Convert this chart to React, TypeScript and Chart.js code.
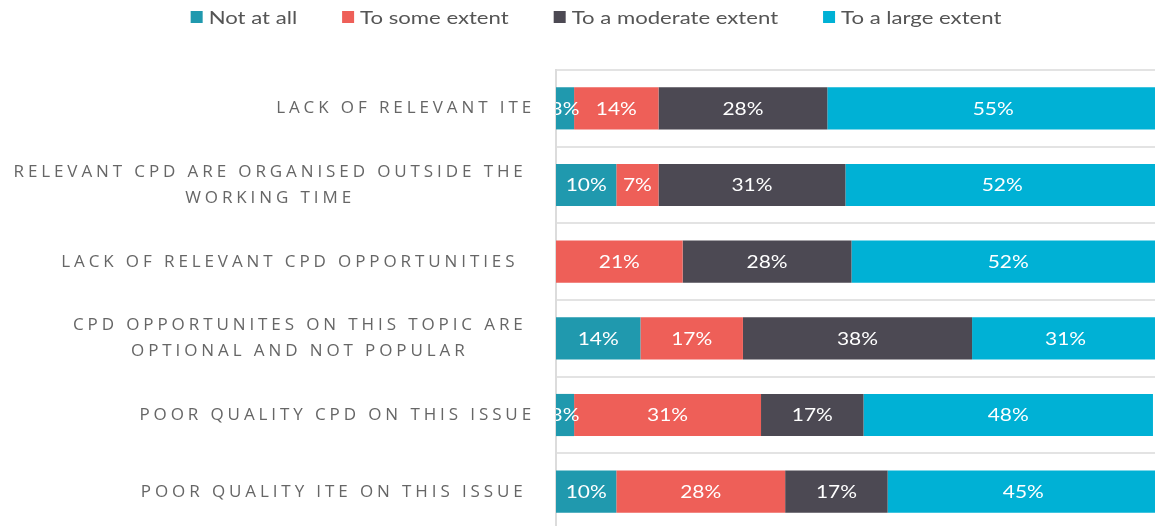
import { useEffect, useRef } from "react";
import { Chart, registerables } from "chart.js";

Chart.register(...registerables);

const categories: string[][] = [
  ["LACK OF RELEVANT ITE"],
  ["RELEVANT CPD ARE ORGANISED OUTSIDE THE ", "WORKING TIME"],
  ["LACK OF RELEVANT CPD OPPORTUNITIES  "],
  ["CPD OPPORTUNITES ON THIS TOPIC ARE ", "OPTIONAL AND NOT POPULAR"],
  ["POOR QUALITY CPD ON THIS ISSUE"],
  ["POOR QUALITY ITE ON THIS ISSUE "],
];

const seriesNames = ["Not at all", "To some extent", "To a moderate extent", "To a large extent"];
const notAtAll = [3, 10, 0, 14, 3, 10];
const toSomeExtent = [14, 7, 21, 17, 31, 28];
const toModerateExtent = [28, 31, 28, 38, 17, 17];
const toLargeExtent = [55, 52, 52, 31, 48, 45];
const seriesColors = ["#2099AE", "#EE5F58", "#4C4953", "#00B1D5"];

const LABEL_FONT = "17px 'Open Sans'";
const LABEL_SPACING = "3.9px";
const LABEL_COLOR = "#666666";
const LEGEND_FONT = "18px Lato";
const LEGEND_COLOR = "#555555";
const VALUE_FONT = "17px Lato";
const TEXT_STRETCH = 1.23;

function stretchedText(ctx: CanvasRenderingContext2D, text: string, x: number, y: number, sx: number) {
  ctx.save();
  ctx.translate(x, y);
  ctx.scale(sx, 1);
  ctx.fillText(text, 0, 0);
  ctx.restore();
}

const yLabelsPlugin = {
  id: "yLabels",
  afterDraw(chart: any) {
    const ctx = chart.ctx as CanvasRenderingContext2D;
    const yScale = chart.scales.y;
    ctx.save();
    ctx.font = LABEL_FONT;
    (ctx as any).letterSpacing = LABEL_SPACING;
    ctx.fillStyle = LABEL_COLOR;
    ctx.textBaseline = "middle";
    ctx.textAlign = "left";
    const rightEdge = chart.chartArea.left - 21;
    const lh = 25.5;
    categories.forEach((lines, i) => {
      const yc = yScale.getPixelForValue(i);
      const full = lines.map((l) => ctx.measureText(l).width);
      const trim = lines.map((l) => ctx.measureText(l.trimEnd()).width);
      let k = 0;
      full.forEach((w, j) => {
        if (w > full[k]) k = j;
      });
      const visibleCenter = rightEdge - full[k] + trim[k] / 2;
      lines.forEach((line, j) => {
        const y = yc + (j - (lines.length - 1) / 2) * lh;
        ctx.fillText(line.trimEnd(), visibleCenter - trim[j] / 2, y);
      });
    });
    ctx.restore();
  },
};

const legendPlugin = {
  id: "customLegend",
  afterDraw(chart: any) {
    const ctx = chart.ctx as CanvasRenderingContext2D;
    ctx.save();
    ctx.font = LEGEND_FONT;
    ctx.textBaseline = "middle";
    ctx.textAlign = "left";
    const box = 12;
    const gapText = 6;
    const gapItem = 45;
    const items = chart.data.datasets.map((d: any) => ({
      label: d.label as string,
      color: d.backgroundColor as string,
      w: ctx.measureText(d.label).width * TEXT_STRETCH,
    }));
    const total =
      items.reduce((s: number, it: any) => s + box + gapText + it.w, 0) + gapItem * (items.length - 1);
    let x = 596 - total / 2;
    const y = 17;
    items.forEach((it: any) => {
      ctx.fillStyle = it.color;
      ctx.fillRect(x, y - box / 2, box, box);
      x += box + gapText;
      ctx.fillStyle = LEGEND_COLOR;
      stretchedText(ctx, it.label, x, y + 1, TEXT_STRETCH);
      x += it.w + gapItem;
    });
    ctx.restore();
  },
};

const valueLabelsPlugin = {
  id: "valueLabels",
  afterDatasetsDraw(chart: any) {
    const ctx = chart.ctx as CanvasRenderingContext2D;
    const area = chart.chartArea;
    ctx.save();
    ctx.beginPath();
    ctx.rect(area.left, area.top, area.right - area.left, area.bottom - area.top);
    ctx.clip();
    ctx.font = VALUE_FONT;
    ctx.fillStyle = "#ffffff";
    ctx.textAlign = "center";
    ctx.textBaseline = "middle";
    chart.data.datasets.forEach((ds: any, di: number) => {
      const meta = chart.getDatasetMeta(di);
      meta.data.forEach((el: any, i: number) => {
        const v = ds.data[i];
        if (!v) return;
        const cx = (el.x + el.base) / 2;
        stretchedText(ctx, `${v}%`, cx, el.y + 1, TEXT_STRETCH);
      });
    });
    ctx.restore();
  },
};

export default function App() {
  const canvasRef = useRef<HTMLCanvasElement | null>(null);

  useEffect(() => {
    document.body.style.overflow = "hidden";
    const canvas = canvasRef.current;
    if (!canvas) return;
    const series = [notAtAll, toSomeExtent, toModerateExtent, toLargeExtent];
    const chart = new Chart(canvas, {
      type: "bar",
      data: {
        labels: categories.map((c) => c.join(" ").trim()),
        datasets: series.map((data, i) => ({
          label: seriesNames[i],
          data,
          backgroundColor: seriesColors[i],
          borderWidth: 0,
          barPercentage: 0.55,
          categoryPercentage: 1,
        })),
      },
      options: {
        indexAxis: "y",
        animation: false,
        responsive: true,
        maintainAspectRatio: false,
        layout: { padding: { top: 70, right: 1, bottom: 1, left: 0 } },
        plugins: {
          legend: { display: false },
          tooltip: { enabled: false },
        },
        scales: {
          x: {
            stacked: true,
            min: 0,
            max: 100,
            display: false,
          },
          y: {
            stacked: true,
            ticks: { display: false },
            grid: { color: "#e3e3e3", drawTicks: false, offset: true, lineWidth: 2 },
            border: { color: "#dcdcdc", width: 2 },
            afterFit: (scale: any) => {
              scale.width = 556;
            },
          },
        },
      },
      plugins: [valueLabelsPlugin, yLabelsPlugin, legendPlugin],
    });
    return () => chart.destroy();
  }, []);

  return (
    <div style={{ position: "fixed", left: 0, top: 0, width: 1160, height: 531, background: "#fff" }}>
      <canvas ref={canvasRef} />
    </div>
  );
}
